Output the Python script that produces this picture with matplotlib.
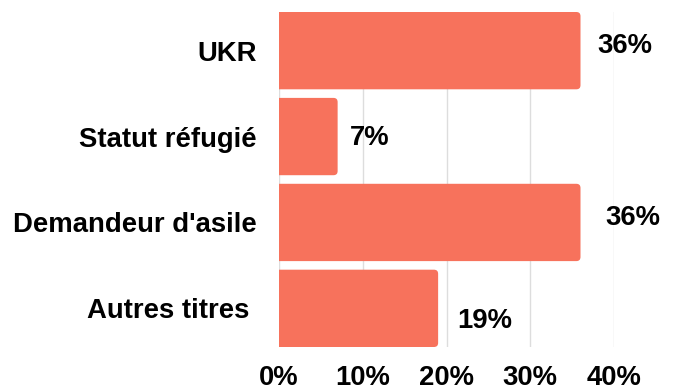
import matplotlib.pyplot as plt
from matplotlib.patches import FancyBboxPatch

# data (top to bottom)
categories = ['UKR', 'Statut réfugié', "Demandeur d'asile", 'Autres titres ']
values = [36, 7, 36, 19]
xticks = [0, 10, 20, 30, 40]
xtick_labels = ['0%', '10%', '20%', '30%', '40%']

# label offsets in points (the original labels are not evenly placed)
lbl_dx = [12, 9, 18, 14]
lbl_dy = [3, -1, 3, -9]

bar_color = '#F7725C'
fs = 19.8
plt.rcParams['font.family'] = ['Liberation Sans', 'DejaVu Sans']

fig = plt.figure(figsize=(6.75, 3.9), dpi=100)
ax = fig.add_axes([279 / 675, 1 - 347 / 390, (614 - 279) / 675, (347 - 12) / 390])

ypos = list(range(len(categories)))
bh = 0.9
bars = ax.barh(ypos, values, height=bh, color='none')

# rounded right ends, square left (clipped at x=0)
for b, v in zip(bars, values):
    p = FancyBboxPatch((-2, b.get_y()), v + 2, bh,
                       boxstyle='round,pad=0,rounding_size=0.5',
                       mutation_aspect=0.095,
                       facecolor=bar_color, edgecolor='none', zorder=2)
    ax.add_patch(p)
    p.set_clip_on(True)

for y, v, dx, dy in zip(ypos, values, lbl_dx, lbl_dy):
    ax.annotate(f'{v}%', xy=(v, y), xytext=(dx, dy), textcoords='offset points',
                ha='left', va='center', fontsize=fs, fontweight='bold',
                color='black', annotation_clip=False)

ax.set_xlim(0, 40)
ax.set_ylim(len(categories) - 1 + bh / 2, -bh / 2)
ax.set_xticks(xticks)
ax.set_xticklabels(xtick_labels, fontsize=fs, fontweight='bold')
ax.set_yticks(ypos)
ax.set_yticklabels(categories, fontsize=fs, fontweight='bold')
ax.tick_params(axis='x', length=0, pad=13)
ax.tick_params(axis='y', length=0, pad=16)
ax.grid(axis='x', color='#dddddd', linewidth=1)
ax.set_axisbelow(True)
for s in ax.spines.values():
    s.set_visible(False)

fig.savefig('out.png', dpi=100)
